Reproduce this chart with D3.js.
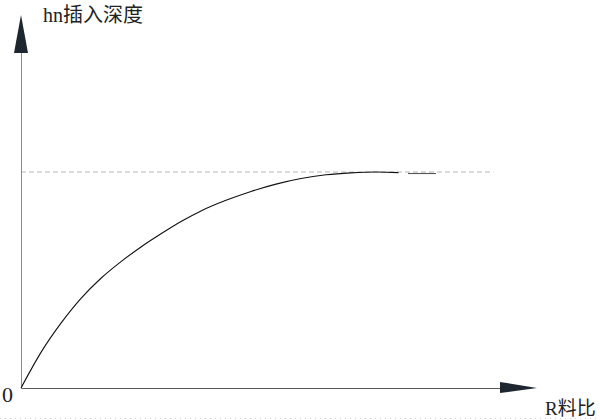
<!DOCTYPE html>
<html>
<head>
<meta charset="utf-8">
<script src="https://cdn.jsdelivr.net/npm/d3@7/dist/d3.min.js"></script>
<style>
  html, body { margin: 0; padding: 0; background: #fff; }
  svg { display: block; }
</style>
</head>
<body>
<svg id="chart" width="600" height="420"></svg>
<script>
// ---- data (R ratio vs. hn insertion depth, relative units) ----
const rRatio = [0, 0.4, 0.8, 1.2, 1.6, 2.0, 2.4, 2.8, 3.2, 3.6, 4.1, 4.6, 5.1, 5.6, 6.1, 6.6, 7.1, 7.55];
const depth  = [0, 0.165, 0.300, 0.415, 0.508, 0.585, 0.653, 0.714, 0.771, 0.820, 0.869, 0.910, 0.944, 0.970, 0.987, 0.996, 1.0, 0.997];
const tailRatio = [7.74, 8.30];
const tailDepth = [0.993, 0.993];
const plateauDepth = 1.0;
const plateauEnd = 9.45;
const xLabel = "R料比";
const yLabel = "hn插入深度";
const originLabel = "0";

const svg = d3.select("#chart");
const x = d3.scaleLinear().domain([0, 10]).range([21, 521]);
const y = d3.scaleLinear().domain([0, 1]).range([388, 172]);
const xEnd = 537, yTop = 15;

// faint dotted bottom line
svg.append("line")
  .attr("x1", 0).attr("x2", 600).attr("y1", 418.5).attr("y2", 418.5)
  .attr("stroke", "#cfcfcf").attr("stroke-width", 1).attr("stroke-dasharray", "1,4");

// plateau dashed reference line
svg.append("line")
  .attr("x1", x(0)).attr("x2", x(plateauEnd))
  .attr("y1", y(plateauDepth)).attr("y2", y(plateauDepth))
  .attr("stroke", "#b5b5b5").attr("stroke-width", 1)
  .attr("stroke-dasharray", "5,3");

// Y axis
const yAxis = d3.axisLeft(y.copy().range([388, yTop + 20]).domain([0, y.invert(yTop + 20)])).ticks(0).tickSize(0).tickSizeOuter(0);
const gy = svg.append("g").attr("transform", `translate(${x(0)},0)`).call(yAxis);
gy.select(".domain").attr("stroke", "#8a8a8a").attr("stroke-width", 1);

// X axis
const xAxis = d3.axisBottom(x.copy().range([21, xEnd - 20]).domain([0, x.invert(xEnd - 20)])).ticks(0).tickSize(0).tickSizeOuter(0);
const gx = svg.append("g").attr("transform", `translate(0,${y(0)})`).call(xAxis);
gx.select(".domain").attr("stroke", "#5a5a5a").attr("stroke-width", 1.2);

// arrowheads
svg.append("path")
  .attr("d", `M${x(0)},${yTop} L${x(0) + 7},${yTop + 38} L${x(0) - 7},${yTop + 38} Z`)
  .attr("fill", "#1e2630");
svg.append("path")
  .attr("d", `M${xEnd},${y(0)} L${xEnd - 37},${y(0) - 6} L${xEnd - 37},${y(0) + 5} Z`)
  .attr("fill", "#1e2630");

// curve
const pts = rRatio.map((r, i) => [r, depth[i]]);
const line = d3.line().x(d => x(d[0])).y(d => y(d[1])).curve(d3.curveMonotoneX);
svg.append("path").datum(pts)
  .attr("d", line)
  .attr("fill", "none").attr("stroke", "#111").attr("stroke-width", 1.1);
svg.append("path").datum(tailRatio.map((r, i) => [r, tailDepth[i]]))
  .attr("d", d3.line().x(d => x(d[0])).y(d => y(d[1])))
  .attr("fill", "none").attr("stroke", "#555").attr("stroke-width", 1.1);

// labels
const font = "'Liberation Serif', 'Noto Sans CJK SC', serif";
svg.append("text").attr("x", 43).attr("y", 22)
  .attr("font-family", font).attr("font-size", 20).attr("fill", "#222")
  .text(yLabel);
svg.append("text").attr("x", 545).attr("y", 415)
  .attr("font-family", font).attr("font-size", 19).attr("fill", "#222")
  .text(xLabel);
svg.append("text").attr("x", 2).attr("y", 402)
  .attr("font-family", font).attr("font-size", 22).attr("fill", "#222")
  .text(originLabel);
</script>
</body>
</html>
